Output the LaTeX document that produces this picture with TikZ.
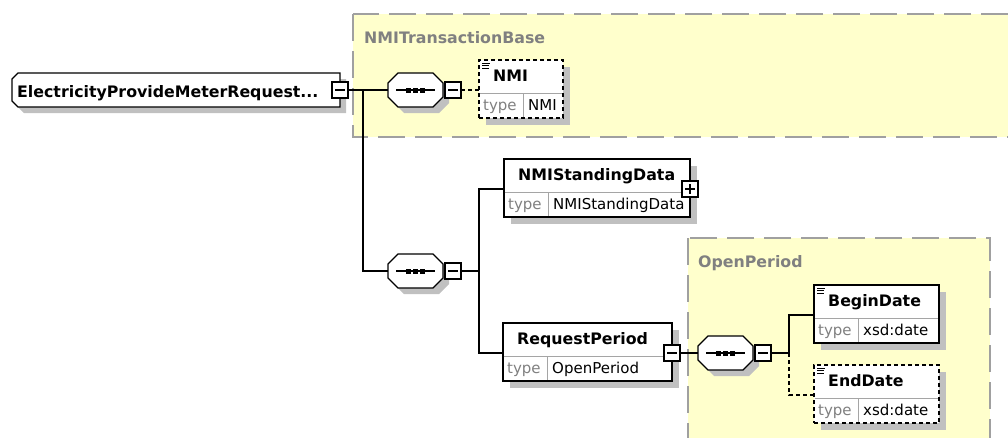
\documentclass[tikz,border=0pt]{standalone}
\usepackage{fontspec}
\setmainfont{DejaVu Sans}
\definecolor{grpfill}{RGB}{255,255,204}
\definecolor{grpline}{RGB}{160,160,160}
\definecolor{shad}{RGB}{192,192,192}
\definecolor{lbl}{RGB}{128,128,128}
\definecolor{divc}{RGB}{165,165,165}
\tikzset{
  conn/.style={line width=1.3pt,black},
  optdash/.style={dash pattern=on 4pt off 3pt},
  grpbox/.style={fill=grpfill,draw=grpline,line width=2pt,dash pattern=on 27pt off 10pt},
  grplabel/.style={text=lbl,font=\fontsize{15.8}{18}\selectfont\bfseries,inner sep=0pt,anchor=base west},
  elembox/.style={draw=black,fill=white,line width=1.3pt,inner sep=0pt,outer sep=0pt,anchor=north west,minimum height=58pt},
  namet/.style={font=\fontsize{15.8}{18}\selectfont\bfseries,inner sep=0pt,anchor=base west},
  typel/.style={font=\fontsize{15}{18}\selectfont,text=lbl,inner sep=0pt,anchor=base west},
  typen/.style={font=\fontsize{15}{18}\selectfont,inner sep=0pt,anchor=base west},
  togglebox/.style={draw=black,fill=white,line width=1.2pt,minimum size=16pt,inner sep=0pt,outer sep=0pt},
  shadowfill/.style={fill=shad},
  divline/.style={draw=divc,line width=1pt},
}
% element: id, left, top, width, name, type, border style, icon (1/0)
\newcommand\XElem[8]{%
  \fill[shadowfill] (#2+7,#3+7) rectangle (#2+#4+7,#3+58+7);
  \node[elembox,#7,minimum width=#4pt] (#1) at (#2,#3) {};
  \draw[divline] (#2+0.7,#3+33) -- (#2+#4-0.7,#3+33);
  \draw[divline] (#2+44,#3+33) -- (#2+44,#3+57.3);
  \node[namet] (#1-name) at (#2+14,#3+21) {#5};
  \node[typel] (#1-tl) at (#2+4,#3+50) {type};
  \node[typen] (#1-tn) at (#2+49,#3+50) {#6};
  \coordinate (#1-in) at (#2,#3+30);
  \ifnum#8=1
    \draw[line width=1pt] (#2+3,#3+3) -- (#2+11,#3+3) (#2+3,#3+5.5) -- (#2+10,#3+5.5) (#2+3,#3+8) -- (#2+10,#3+8);
  \fi
}
% sequence compositor: id, left, centre y
\newcommand\XSeq[3]{%
  \fill[shadowfill] (#2+16,#3-11) -- (#2+51,#3-11) -- (#2+61,#3-1) -- (#2+61,#3+13) -- (#2+51,#3+23) -- (#2+16,#3+23) -- (#2+6,#3+13) -- (#2+6,#3-1) -- cycle;
  \node[inner sep=0pt,outer sep=0pt,minimum width=55pt,minimum height=34pt,anchor=west] (#1) at (#2,#3) {};
  \draw[line width=1.3pt,fill=white] (#2+10,#3-17) -- (#2+45,#3-17) -- (#2+55,#3-7) -- (#2+55,#3+7) -- (#2+45,#3+17) -- (#2+10,#3+17) -- (#2,#3+7) -- (#2,#3-7) -- cycle;
  \draw[line width=1.3pt] (#2+8,#3) -- (#2+47,#3);
  \fill (#2+18,#3-2.5) rectangle +(5,5);
  \fill (#2+25,#3-2.5) rectangle +(5,5);
  \fill (#2+32,#3-2.5) rectangle +(5,5);
  \node[togglebox] (#1-m) at (#2+65,#3) {};
  \draw[line width=1.1pt] ([xshift=3pt]#1-m.west) -- ([xshift=-3pt]#1-m.east);
}
\begin{document}
\begin{tikzpicture}[x=1pt,y=-1pt]
\useasboundingbox (0,0) rectangle (1008,437);
\clip (0,0) rectangle (1008,437);
\fill[white] (0,0) rectangle (1008,437);

% groups
\draw[grpbox] (353,14) rectangle (1020,137);
\node[grplabel] (grp1) at (364,43) {NMITransactionBase};
\draw[grpbox] (688,238) rectangle (990,450);
\node[grplabel] (grp2) at (698,267) {OpenPeriod};

% root element
\fill[shadowfill] (24,79) -- (346,79) -- (346,113) -- (24,113) -- (18,107) -- (18,85) -- cycle;
\node[inner sep=0pt,outer sep=0pt,minimum width=328pt,minimum height=34pt,anchor=north west] (root) at (12,73) {};
\draw[line width=1.3pt,fill=white] (18,73) -- (340,73) -- (340,107) -- (18,107) -- (12,101) -- (12,79) -- cycle;
\node[namet] (root-name) at (17,97) {ElectricityProvideMeterRequest...};
\node[togglebox] (root-m) at (340,90) {};
\draw[line width=1.1pt] ([xshift=3pt]root-m.west) -- ([xshift=-3pt]root-m.east);

% compositors
\XSeq{seq1}{388}{90}
\XSeq{seq2}{388}{271}
\XSeq{seq3}{698}{353}

% elements
\XElem{nmi}{479}{60}{84}{NMI}{NMI}{optdash}{1}
\XElem{nsd}{504}{159}{186}{NMIStandingData}{NMIStandingData}{}{0}
\XElem{rp}{503}{323}{169}{RequestPeriod}{OpenPeriod}{}{0}
\XElem{bd}{814}{285}{125}{BeginDate}{xsd:date}{}{1}
\XElem{ed}{814}{365}{125}{EndDate}{xsd:date}{optdash}{1}

% toggle boxes on elements
\node[togglebox] (nsd-p) at (690,189) {};
\draw[line width=1.1pt] ([xshift=3pt]nsd-p.west) -- ([xshift=-3pt]nsd-p.east)
  ([yshift=-3pt]nsd-p.north) -- ([yshift=3pt]nsd-p.south);
\node[togglebox] (rp-m) at (672,353) {};
\draw[line width=1.1pt] ([xshift=3pt]rp-m.west) -- ([xshift=-3pt]rp-m.east);

% connectors
\coordinate (j1) at (363,90);
\coordinate (j2) at (479,271);
\coordinate (j3) at (789,353);
\draw[conn] (root-m.east) -- (seq1.west);
\draw[conn] (j1) |- (seq2.west);
\draw[conn,optdash] (seq1-m.east) -- (nmi-in);
\draw[conn] (seq2-m.east) -- (j2);
\draw[conn] (j2) |- (nsd-in);
\draw[conn] (j2) |- (rp-in);
\draw[conn] (rp-m.east) -- (seq3.west);
\draw[conn] (seq3-m.east) -- (j3);
\draw[conn] (j3) |- (bd-in);
\draw[conn,optdash] (j3) |- (ed-in);
\end{tikzpicture}
\end{document}
